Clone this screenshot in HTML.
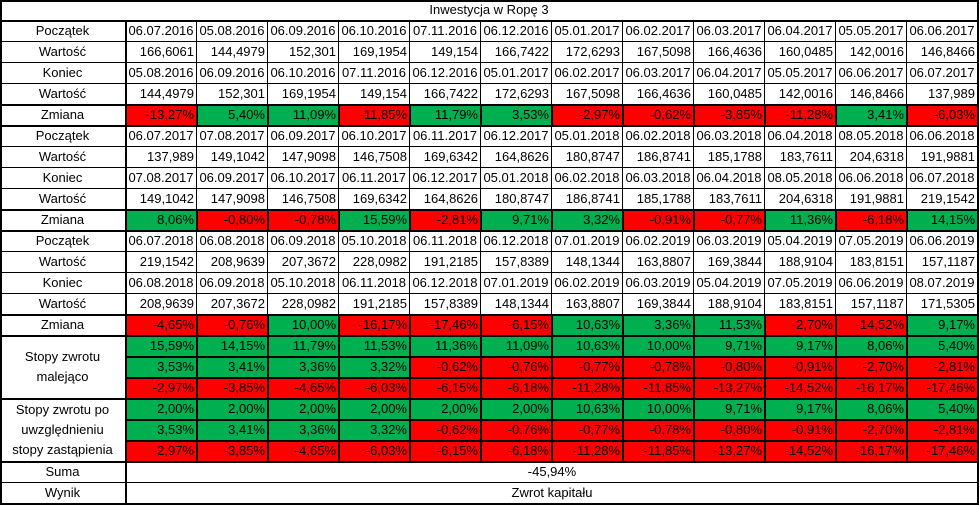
<!DOCTYPE html>
<html><head><meta charset="utf-8">
<style>
html,body{margin:0;padding:0;background:#fff;}
#t{position:relative;width:979px;height:507px;font-family:"Liberation Sans",sans-serif;font-size:13px;color:#000;overflow:hidden;}
.c{position:absolute;box-sizing:border-box;border-right:1px solid #000;border-bottom:1px solid #000;line-height:20px;white-space:nowrap;overflow:hidden;padding:0 2px;}
.l{text-align:center;}
.r{text-align:right;}
.ctr{text-align:center;}
.g{background:#00b050;}
.n{background:#ff0000;}
.hl{position:absolute;background:#000;height:2px;}
.vl{position:absolute;background:#000;width:2px;}
</style></head><body>
<div id="t"></div>
<script>
const starts1=["06.07.2016","05.08.2016","06.09.2016","06.10.2016","07.11.2016","06.12.2016","05.01.2017","06.02.2017","06.03.2017","06.04.2017","05.05.2017","06.06.2017"];
const sval1=["166,6061","144,4979","152,301","169,1954","149,154","166,7422","172,6293","167,5098","166,4636","160,0485","142,0016","146,8466"];
const ends1=["05.08.2016","06.09.2016","06.10.2016","07.11.2016","06.12.2016","05.01.2017","06.02.2017","06.03.2017","06.04.2017","05.05.2017","06.06.2017","06.07.2017"];
const eval1=["144,4979","152,301","169,1954","149,154","166,7422","172,6293","167,5098","166,4636","160,0485","142,0016","146,8466","137,989"];
const chg1=[-13.27,5.40,11.09,-11.85,11.79,3.53,-2.97,-0.62,-3.85,-11.28,3.41,-6.03];
const starts2=["06.07.2017","07.08.2017","06.09.2017","06.10.2017","06.11.2017","06.12.2017","05.01.2018","06.02.2018","06.03.2018","06.04.2018","08.05.2018","06.06.2018"];
const sval2=["137,989","149,1042","147,9098","146,7508","169,6342","164,8626","180,8747","186,8741","185,1788","183,7611","204,6318","191,9881"];
const ends2=["07.08.2017","06.09.2017","06.10.2017","06.11.2017","06.12.2017","05.01.2018","06.02.2018","06.03.2018","06.04.2018","08.05.2018","06.06.2018","06.07.2018"];
const eval2=["149,1042","147,9098","146,7508","169,6342","164,8626","180,8747","186,8741","185,1788","183,7611","204,6318","191,9881","219,1542"];
const chg2=[8.06,-0.80,-0.78,15.59,-2.81,9.71,3.32,-0.91,-0.77,11.36,-6.18,14.15];
const starts3=["06.07.2018","06.08.2018","06.09.2018","05.10.2018","06.11.2018","06.12.2018","07.01.2019","06.02.2019","06.03.2019","05.04.2019","07.05.2019","06.06.2019"];
const sval3=["219,1542","208,9639","207,3672","228,0982","191,2185","157,8389","148,1344","163,8807","169,3844","188,9104","183,8151","157,1187"];
const ends3=["06.08.2018","06.09.2018","05.10.2018","06.11.2018","06.12.2018","07.01.2019","06.02.2019","06.03.2019","05.04.2019","07.05.2019","06.06.2019","08.07.2019"];
const eval3=["208,9639","207,3672","228,0982","191,2185","157,8389","148,1344","163,8807","169,3844","188,9104","183,8151","157,1187","171,5305"];
const chg3=[-4.65,-0.76,10.00,-16.17,-17.46,-6.15,10.63,3.36,11.53,-2.70,-14.52,9.17];
const desc1=[15.59,14.15,11.79,11.53,11.36,11.09,10.63,10.00,9.71,9.17,8.06,5.40];
const desc2=[3.53,3.41,3.36,3.32,-0.62,-0.76,-0.77,-0.78,-0.80,-0.91,-2.70,-2.81];
const desc3=[-2.97,-3.85,-4.65,-6.03,-6.15,-6.18,-11.28,-11.85,-13.27,-14.52,-16.17,-17.46];
const adj1=[2.00,2.00,2.00,2.00,2.00,2.00,10.63,10.00,9.71,9.17,8.06,5.40];
const adj2=[3.53,3.41,3.36,3.32,-0.62,-0.76,-0.77,-0.78,-0.80,-0.91,-2.70,-2.81];
const adj3=[-2.97,-3.85,-4.65,-6.03,-6.15,-6.18,-11.28,-11.85,-13.27,-14.52,-16.17,-17.46];
const T=document.getElementById('t');
const X0=126,CW=71,RH=21;
function rowY(r){return 21+RH*(r-1);}
function colX(i){return X0+CW*i;}
function pct(v){return v.toFixed(2).replace('.',',')+'%';}
function cell(x,y,w,h,txt,cls,name){
  const d=document.createElement('div');
  d.className='c '+cls;
  d.style.left=x+'px';d.style.top=y+'px';d.style.width=w+'px';d.style.height=h+'px';
  d.style.lineHeight=(h-1)+'px';
  d.textContent=txt;
  
  
  T.appendChild(d);return d;
}
function hline(y,x,w){const d=document.createElement('div');d.className='hl';d.style.top=(y-1)+'px';d.style.left=x+'px';d.style.width=w+'px';


T.appendChild(d);}
function vline(x,y,h){const d=document.createElement('div');d.className='vl';d.style.left=(x-1)+'px';d.style.top=y+'px';d.style.height=h+'px';


T.appendChild(d);}
cell(0,0,979,21,'Inwestycja w Ropę 3','ctr','table-title');
const blocks=[[starts1,sval1,ends1,eval1,chg1],[starts2,sval2,ends2,eval2,chg2],[starts3,sval3,ends3,eval3,chg3]];
const labels=['Początek','Wartość','Koniec','Wartość','Zmiana'];
let r=1;
blocks.forEach((b,bi)=>{
  for(let k=0;k<5;k++){
    const y=rowY(r);
    cell(0,y,X0,RH,labels[k],'l','row-label');
    for(let i=0;i<12;i++){
      if(k===4){
        cell(colX(i),y,CW,RH,pct(b[4][i]),'r '+(b[4][i]<0?'n':'g'),'change-cell');
      }else if(k%2===0){
        cell(colX(i),y,CW,RH,b[k][i],'ctr','date-cell');
      }else{
        cell(colX(i),y,CW,RH,b[k][i],'r','value-cell');
      }
    }
    if(k===4){hline(y,0,979);hline(y+RH,0,979);for(let i=0;i<=12;i++)vline(colX(i),y,RH);}
    r++;
  }
});
function group(rows,label,name){
  const y0=rowY(r);
  const lb=cell(0,y0,X0,RH*3,'','l',name);
  lb.style.lineHeight='20px';lb.style.whiteSpace='normal';lb.style.display='flex';lb.style.alignItems='center';lb.style.justifyContent='center';
  lb.innerHTML=label;
  rows.forEach((arr,ri)=>{
    const y=rowY(r);
    for(let i=0;i<12;i++)cell(colX(i),y,CW,RH,pct(arr[i]),'r '+(arr[i]<0?'n':'g'),'return-cell');
    hline(y,X0,979-X0);
    r++;
  });
  hline(y0,0,979);hline(rowY(r),0,979);
  for(let i=0;i<=12;i++)vline(colX(i),y0,RH*3);
}
group([desc1,desc2,desc3],'Stopy zwrotu<br>malejąco','returns-descending-label');
group([adj1,adj2,adj3],'Stopy zwrotu po<br>uwzględnieniu<br>stopy zastąpienia','returns-adjusted-label');
let y=rowY(r);
cell(0,y,X0,RH,'Suma','l','sum-label');
cell(X0,y,979-X0,RH,'-45,94%','ctr','sum-value');
r++;y=rowY(r);
cell(0,y,X0,RH,'Wynik','l','result-label');
cell(X0,y,979-X0,RH,'Zwrot kapitału','ctr','result-value');
hline(1,0,979);hline(21,0,979);hline(rowY(r)+RH,0,979);
vline(1,0,rowY(r)+RH);vline(978,0,rowY(r)+RH);vline(X0,21,rowY(r)+RH-21);
</script>
</body></html>
